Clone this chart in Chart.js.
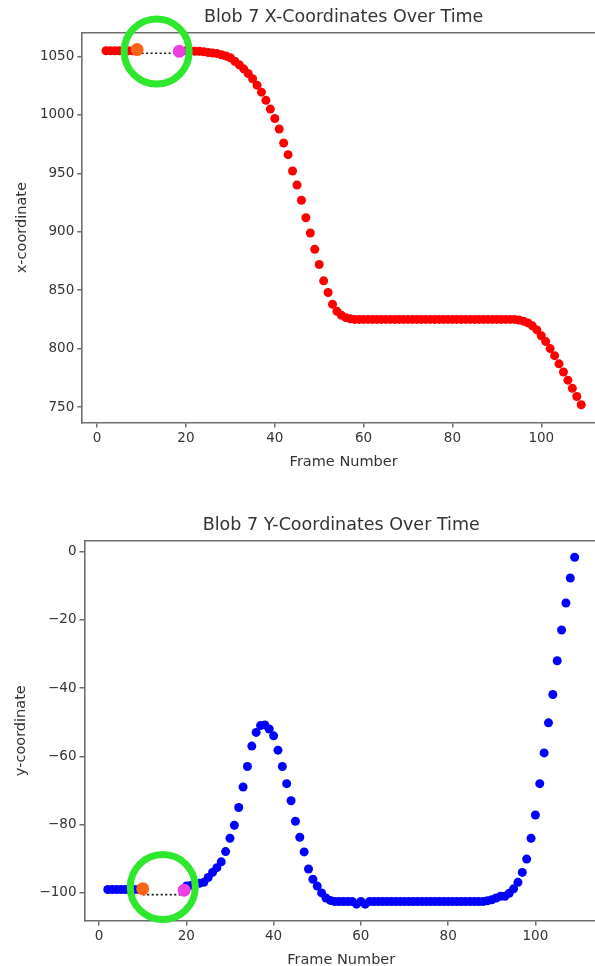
<!DOCTYPE html>
<html><head><meta charset="utf-8">
<script src="https://cdn.jsdelivr.net/npm/chart.js@4/dist/chart.umd.min.js"></script>
<style>
html,body{margin:0;padding:0;background:#fff;overflow:hidden;width:595px;height:966px;position:relative;}
#c1{position:absolute;left:0;top:2px;}
#c2{position:absolute;left:0;top:510px;}
</style></head><body>
<canvas id="c1" width="612" height="506"></canvas>
<canvas id="c2" width="612" height="459"></canvas>
<script>
// ---------- data ----------
const xTickValues = [0, 20, 40, 60, 80, 100];
const yTicksTop = [750, 800, 850, 900, 950, 1000, 1050];
const yTicksBottom = [-100, -80, -60, -40, -20, 0];

const framesTop = [2,3,4,5,6,7,8,
  20,21,22,23,24,25,26,27,28,29,30,31,32,33,34,35,36,37,38,39,40,41,42,43,44,45,46,47,48,49,
  50,51,52,53,54,55,56,57,58,59,60,61,62,63,64,65,66,67,68,69,70,71,72,73,74,75,76,77,78,79,
  80,81,82,83,84,85,86,87,88,89,90,91,92,93,94,95,96,97,98,99,100,101,102,103,104,105,106,107,108,109];
const xCoord = [1055,1055,1055,1055,1055,1055,1055,
  1055,1055,1054.5,1054.5,1054,1053.5,1053,1052.5,1051.5,1050.5,
  1049,1046,1043,1039.5,1035.5,1031,1025.5,1019.5,1012.5,1005,
  997,988,976,966,952,940,927,912,899,885,
  872,858,848,838,832,828.5,826.5,825.5,825,825,
  825,825,825,825,825,825,825,825,825,825,
  825,825,825,825,825,825,825,825,825,825,
  825,825,825,825,825,825,825,825,825,825,
  825,825,825,825,825,824.5,823.5,822,819.5,816,
  811,806,800,794,787,780,773,766,759,752];

const framesBottom = [2,3,4,5,6,7,8,9,
  20,21,22,23,24,25,26,27,28,29,30,31,32,33,34,35,36,37,38,39,40,41,42,43,44,45,46,47,48,49,
  50,51,52,53,54,55,56,57,58,59,60,61,62,63,64,65,66,67,68,69,70,71,72,73,74,75,76,77,78,79,
  80,81,82,83,84,85,86,87,88,89,90,91,92,93,94,95,96,97,98,99,100,101,102,103,104,105,106,107,108,109];
const yCoord = [-99,-99,-99,-99,-99,-99,-99,-99,
  -98,-97.8,-97.5,-97.2,-96.9,-95.5,-94,-92.6,-90.9,-87.9,
  -84,-80.2,-75,-69,-63,-57,-53,-51,-50.8,-52,
  -54,-58.2,-63,-68,-73,-79,-83.7,-88,-93,-96,
  -98,-100,-101.5,-102.2,-102.5,-102.5,-102.5,-102.5,-102.5,-103.3,
  -102.5,-103.3,-102.5,-102.5,-102.5,-102.5,-102.5,-102.5,-102.5,-102.5,
  -102.5,-102.5,-102.5,-102.5,-102.5,-102.5,-102.5,-102.5,-102.5,-102.5,
  -102.5,-102.5,-102.5,-102.5,-102.5,-102.5,-102.5,-102.5,-102.5,-102.3,
  -102,-101.5,-101,-101,-100.1,-98.8,-96.9,-94,-90.1,-84,
  -77.2,-68,-59,-50.2,-41.9,-32,-23,-15.1,-7.8,-1.7];

// highlighted gap endpoints, connector and ring (frame, value)
const startMarkTop = [9, 1056];
const endMarkTop = [18.5, 1054.5];
const gapLineTop = [[9, 1052.8], [18.5, 1052.8]];
const ringTop = [13.4, 1054.3];

const startMarkBottom = [10, -98.8];
const endMarkBottom = [19.5, -99.2];
const gapLineBottom = [[10, -100.5], [19.5, -100.5]];
const ringBottom = [14.6, -98.3];

// ---------- helpers ----------
const FONT = 'DejaVu Sans';
const TXT = '#333333';
const AX = '#6e6e6e';
const pt = a => ({x: a[0], y: a[1]});
const fmt = v => (v < 0 ? '\u2212' + Math.abs(v) : String(v));

function makeChart(id, cfg) {
  const axisCommon = (tickVals) => ({
    afterBuildTicks: s => { s.ticks = tickVals.map(v => ({value: v})); },
    ticks: {color: TXT, font: {family: FONT, size: 13.5}, padding: 3, callback: v => fmt(v), autoSkip: false, maxRotation: 0},
    grid: {display: true, drawOnChartArea: false, drawTicks: true, tickLength: 5, color: AX, lineWidth: 1.5},
    border: {display: true, color: AX, width: 1.6}
  });
  const xAxis = Object.assign(axisCommon(xTickValues), {
    type: 'linear', position: 'bottom', min: cfg.xmin, max: cfg.xmax,
    title: {display: true, text: 'Frame Number', color: TXT, font: {family: FONT, size: 14.5}, padding: {top: 4, bottom: 0}}
  });
  const yAxis = Object.assign(axisCommon(cfg.yTicks), {
    type: 'linear', position: 'left', min: cfg.ymin, max: cfg.ymax,
    title: {display: true, text: cfg.yLabel, color: TXT, font: {family: FONT, size: 14.5}, padding: {top: 0, bottom: 6}}
  });
  const topAxis = {
    type: 'linear', position: 'top', display: true, min: cfg.xmin, max: cfg.xmax,
    ticks: {display: false},
    grid: {display: false, drawTicks: false},
    border: {display: true, color: AX, width: 1.6},
    title: {display: true, text: cfg.title, color: TXT, font: {family: FONT, size: 17.5}, padding: {top: 5, bottom: 5}}
  };
  return new Chart(document.getElementById(id), {
    type: 'scatter',
    data: {datasets: [
      {data: [pt(cfg.ring)], pointRadius: 32.5, pointBorderWidth: 7, pointBackgroundColor: 'rgba(0,0,0,0)',
       pointBorderColor: '#2ee82e', clip: false, order: 0},
      {data: [pt(cfg.startMark)], pointRadius: 6.5, pointBorderWidth: 0, pointBackgroundColor: '#ff6414', order: 1},
      {data: [pt(cfg.endMark)], pointRadius: 6.5, pointBorderWidth: 0, pointBackgroundColor: '#ee40e0', order: 1},
      {data: cfg.gapLine.map(pt), showLine: true, borderColor: '#111111', borderWidth: 1.6, borderDash: [2, 2.5],
       pointRadius: 0, order: 2},
      {data: cfg.frames.map((f, i) => ({x: f, y: cfg.values[i]})), pointRadius: 4.5, pointBorderWidth: 0,
       pointBackgroundColor: cfg.color, order: 3}
    ]},
    options: {
      responsive: false, animation: false, events: [],
      layout: {autoPadding: false, padding: {left: cfg.padLeft, right: cfg.padRight, top: 0, bottom: cfg.padBottom}},
      plugins: {legend: {display: false}, tooltip: {enabled: false}, title: {display: false}},
      scales: {x: xAxis, y: yAxis, x2: topAxis}
    }
  });
}

makeChart('c1', {
  title: 'Blob 7 X-Coordinates Over Time', yLabel: 'x-coordinate',
  xmin: -3.35, xmax: 114.35, ymin: 736.85, ymax: 1070.15, yTicks: yTicksTop,
  frames: framesTop, values: xCoord, color: '#ff0000',
  startMark: startMarkTop, endMark: endMarkTop, gapLine: gapLineTop, ring: ringTop,
  padBottom: 37, padLeft: 13.5, padRight: 7
});
makeChart('c2', {
  title: 'Blob 7 Y-Coordinates Over Time', yLabel: 'y-coordinate',
  xmin: -3.35, xmax: 114.35, ymin: -108.05, ymax: 3.05, yTicks: yTicksBottom,
  frames: framesBottom, values: yCoord, color: '#0000ff',
  startMark: startMarkBottom, endMark: endMarkBottom, gapLine: gapLineBottom, ring: ringBottom,
  padBottom: 0, padLeft: 13, padRight: 14
});
</script>
</body></html>
